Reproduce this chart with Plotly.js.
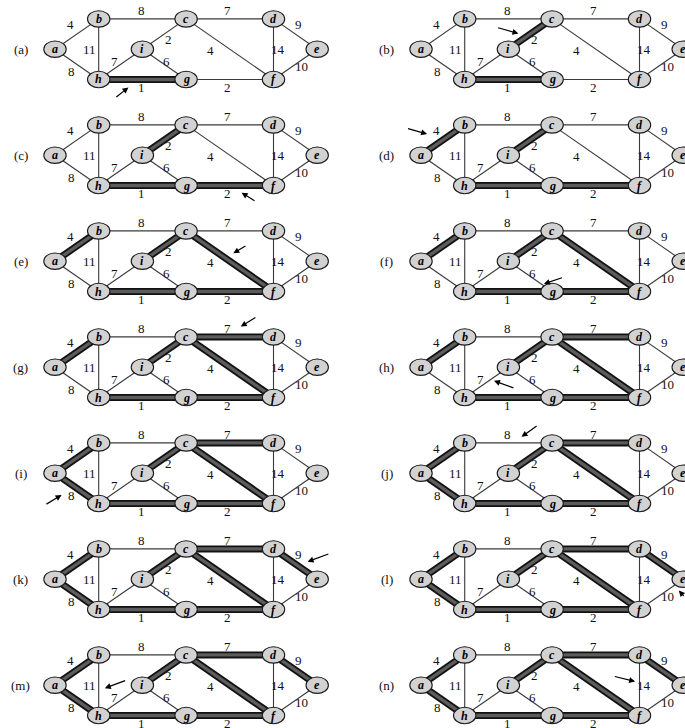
<!DOCTYPE html>
<html><head><meta charset="utf-8">
<script src="https://cdn.plot.ly/plotly-3.0.1.min.js"></script>
<style>html,body{margin:0;padding:0;background:#fff;}#chart{width:685px;height:728px;}</style>
</head><body><div id="chart"></div>
<script>
// ---------------- data ----------------
const vertices = ['a','b','c','d','e','f','g','h','i'];
// edges in Kruskal (non-decreasing weight) order
const edgeFrom   = ['h','c','g','a','c','i','c','i','a','b','d','e','b','d'];
const edgeTo     = ['g','i','f','b','f','g','d','h','h','c','e','f','h','f'];
const edgeWeight = [ 1,  2,  2,  4,  4,  6,  7,  7,  8,  8,  9, 10, 11, 14];
const panelLabels = ['(a)','(b)','(c)','(d)','(e)','(f)','(g)','(h)','(i)','(j)','(k)','(l)','(m)','(n)'];

// ---------------- drawing layout (graph coordinates) ----------------
const nodeU = {a:0,b:1,c:3,d:5,e:6,f:5,g:3,h:1,i:2};
const nodeV = {a:1,b:2,c:2,d:2,e:1,f:0,g:0,h:0,i:1};
const weightLabelU = [1.98,2.60,3.95,0.36,3.56,2.56,3.95,1.37,0.38,1.98,5.57,5.65,0.80,5.11];
const weightLabelV = [-0.26,1.33,-0.26,1.80,0.97,0.61,2.27,0.61,0.26,2.27,1.80,0.42,1.00,1.00];
// arrow per panel: tail (u,v) -> head (u,v)
const arrowTailU = [1.37,1.73,4.60,-0.33,4.39,3.26,4.62,2.15,-0.23,2.68,6.29,6.40,1.64,4.40];
const arrowTailV = [-0.62,1.72,-0.53,1.89,1.53,0.47,2.67,0.30,-0.05,2.59,1.85,0.40,1.17,1.30];
const arrowHeadU = [1.68,2.23,4.27,0.14,4.08,2.81,4.25,1.67,0.15,2.30,5.78,5.90,1.14,4.90];
const arrowHeadV = [-0.26,1.52,-0.24,1.70,1.26,0.25,2.34,0.55,0.28,2.20,1.58,0.63,0.90,1.12];

// ---------------- Kruskal acceptance (union-find) ----------------
const parent = {};
vertices.forEach(v => parent[v] = v);
function find(x){ while(parent[x]!==x){ parent[x]=parent[parent[x]]; x=parent[x]; } return x; }
const accepted = edgeFrom.map((u,j) => {
  const ru = find(u), rv = find(edgeTo[j]);
  if (ru !== rv) { parent[ru] = rv; return true; }
  return false;
});

// ---------------- figure geometry ----------------
const W = 685, H = 728;
const PXU = 43.7, PXV = 30.3;           // pixels per graph unit
const colOrigin = [55, 421];            // pixel x of u=0 per column
const rowStep = 106, rowOrigin0 = 79.5; // pixel y of v=0 for row 0
const uMin = -1.2, vMin = -0.9, vMax = 2.6;

const traces = [], shapes = [], annotations = [];
const layout = {
  width: W, height: H, margin:{l:0,r:0,t:0,b:0},
  paper_bgcolor:'#ffffff', plot_bgcolor:'rgba(0,0,0,0)',
  showlegend:false, hovermode:false
};

const serif = 'Liberation Serif, DejaVu Serif, serif';

for (let k = 0; k < panelLabels.length; k++) {
  const col = k % 2, row = Math.floor(k / 2);
  const sfx = k === 0 ? '' : String(k + 1);
  const xa = 'x' + sfx, ya = 'y' + sfx;
  const ox = colOrigin[col];
  const pxL = ox + uMin * PXU;
  let uMax = 6.7, pxR = ox + uMax * PXU;
  if (pxR > W) { pxR = W; uMax = (W - ox) / PXU; }
  const oy = rowOrigin0 + rowStep * row;
  const pyT = oy - vMax * PXV;
  let vLo = vMin, pyB = oy - vMin * PXV;
  if (pyB > H) { pyB = H; vLo = (oy - H) / PXV; }
  layout['xaxis' + sfx] = {domain:[Math.max(0,pxL/W), Math.min(1,pxR/W)], range:[uMin,uMax],
    visible:false, fixedrange:true, anchor:ya};
  layout['yaxis' + sfx] = {domain:[Math.max(0,1-pyB/H), Math.min(1,1-pyT/H)], range:[vLo,vMax],
    visible:false, fixedrange:true, anchor:xa};

  // edges
  const thinX=[], thinY=[], thickX=[], thickY=[];
  for (let j = 0; j < edgeFrom.length; j++) {
    const a = edgeFrom[j], b = edgeTo[j];
    const inTree = accepted[j] && j <= k;
    const X = inTree ? thickX : thinX, Y = inTree ? thickY : thinY;
    X.push(nodeU[a], nodeU[b], null); Y.push(nodeV[a], nodeV[b], null);
  }
  traces.push({type:'scatter', mode:'lines', x:thinX, y:thinY, xaxis:xa, yaxis:ya,
    line:{color:'#3a3a3a', width:1.1}, hoverinfo:'skip'});
  traces.push({type:'scatter', mode:'lines', x:thickX, y:thickY, xaxis:xa, yaxis:ya,
    line:{color:'#111111', width:7}, hoverinfo:'skip'});
  traces.push({type:'scatter', mode:'lines', x:thickX, y:thickY, xaxis:xa, yaxis:ya,
    line:{color:'#5c5c5c', width:3.4}, hoverinfo:'skip'});

  // nodes
  const rx = 11.2 / PXU, ry = 8.2 / PXV;
  vertices.forEach(v => {
    shapes.push({type:'circle', xref:xa, yref:ya, layer:'above',
      x0:nodeU[v]-rx, x1:nodeU[v]+rx, y0:nodeV[v]-ry, y1:nodeV[v]+ry,
      fillcolor:'#d2d2d2', line:{color:'#1a1a1a', width:1.1}});
    annotations.push({xref:xa, yref:ya, x:nodeU[v], y:nodeV[v], text:v, showarrow:false,
      xanchor:'center', yanchor:'middle',
      font:{family:serif, size:12, color:'#000', style:'italic', weight:'bold'}});
  });

  // weights
  for (let j = 0; j < edgeWeight.length; j++) {
    annotations.push({xref:xa, yref:ya, x:weightLabelU[j], y:weightLabelV[j],
      text:String(edgeWeight[j]), showarrow:false, xanchor:'center', yanchor:'middle',
      font:{family:serif, size:13, color:'#111'}});
  }

  // panel label
  annotations.push({xref:xa, yref:ya, x:-0.78, y:1, text:panelLabels[k], showarrow:false,
    xanchor:'center', yanchor:'middle', font:{family:serif, size:13, color:'#111'}});

  // arrow at the edge under consideration (tail given as pixel offset from head)
  annotations.push({xref:xa, yref:ya, axref:'pixel', ayref:'pixel',
    x:arrowHeadU[k], y:arrowHeadV[k],
    ax:(arrowTailU[k]-arrowHeadU[k])*PXU, ay:-(arrowTailV[k]-arrowHeadV[k])*PXV,
    text:'', showarrow:true, arrowhead:2, arrowsize:1, arrowwidth:1.2,
    arrowcolor:'#000', standoff:0, startstandoff:0});
}

layout.shapes = shapes;
layout.annotations = annotations;
Plotly.newPlot('chart', traces, layout, {staticPlot:true, displayModeBar:false});
</script>
</body></html>
